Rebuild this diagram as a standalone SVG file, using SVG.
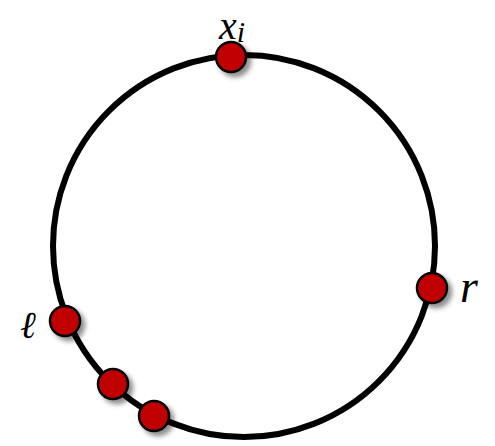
<svg xmlns="http://www.w3.org/2000/svg" width="495" height="446" viewBox="0 0 495 446">
<defs>
<filter id="sh" x="-50%" y="-50%" width="200%" height="200%">
<feGaussianBlur in="SourceAlpha" stdDeviation="2.5"/>
<feOffset dx="4" dy="4" result="b"/>
<feComponentTransfer><feFuncA type="linear" slope="0.45"/></feComponentTransfer>
<feMerge><feMergeNode/><feMergeNode in="SourceGraphic"/></feMerge>
</filter>
</defs>
<style>
.dot{fill:#c00000;stroke:#000;stroke-width:2.5;filter:url(#sh)}
.m{font-family:"Liberation Serif",serif;font-style:italic;fill:#000}
</style>
<rect width="495" height="446" fill="#fff"/>
<g id="connectors">
<circle cx="244" cy="246" r="191" fill="none" stroke="#000" stroke-width="6"/>
</g>
<g id="xi">
<circle class="dot" cx="231" cy="57" r="15"/>
<text class="m" x="219" y="39" font-size="40">x<tspan font-size="30" dy="3">i</tspan></text>
</g>
<g id="r">
<circle class="dot" cx="432" cy="288" r="15"/>
<text class="m" x="460" y="302" font-size="46">r</text>
</g>
<g id="l">
<circle class="dot" cx="65" cy="321" r="15"/>
<text x="20" y="338" font-family="DejaVu Serif, serif" font-style="italic" font-size="38">ℓ</text>
</g>
<g id="p1">
<circle class="dot" cx="113" cy="384" r="15"/>
</g>
<g id="p2">
<circle class="dot" cx="154" cy="416" r="15"/>
</g>
</svg>
